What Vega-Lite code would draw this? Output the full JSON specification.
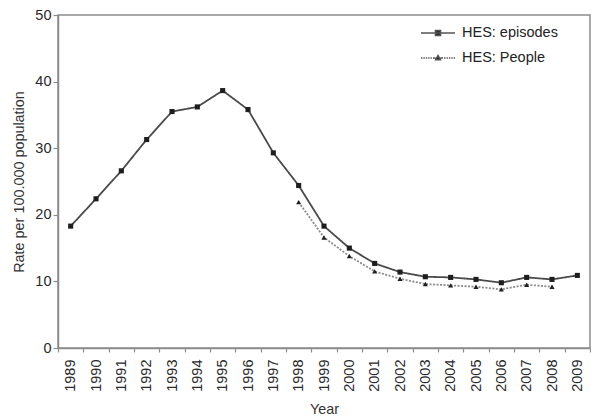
{
  "$schema": "https://vega.github.io/schema/vega-lite/v6.json",
  "width": 532,
  "height": 333,
  "autosize": {"type": "none"},
  "padding": {"left": 58, "top": 15, "right": 1, "bottom": 70},
  "background": "white",
  "config": {
    "font": "Liberation Sans",
    "view": {"stroke": "#8c8c8c", "strokeWidth": 1.5},
    "axis": {
      "domainColor": "#8c8c8c", "domainWidth": 1.5,
      "tickColor": "#8c8c8c", "tickWidth": 1.2,
      "labelColor": "#2a2a2a", "labelFontSize": 14.5, "labelFont": "Liberation Sans",
      "titleColor": "#333", "titleFontSize": 14.4, "titleFontWeight": "normal", "titleFont": "Liberation Sans",
      "grid": false
    }
  },
  "data": {"values": [
    {"year": 1989, "series": "HES: episodes", "rate": 18.3},
    {"year": 1990, "series": "HES: episodes", "rate": 22.4},
    {"year": 1991, "series": "HES: episodes", "rate": 26.6},
    {"year": 1992, "series": "HES: episodes", "rate": 31.3},
    {"year": 1993, "series": "HES: episodes", "rate": 35.5},
    {"year": 1994, "series": "HES: episodes", "rate": 36.2},
    {"year": 1995, "series": "HES: episodes", "rate": 38.65},
    {"year": 1996, "series": "HES: episodes", "rate": 35.8},
    {"year": 1997, "series": "HES: episodes", "rate": 29.3},
    {"year": 1998, "series": "HES: episodes", "rate": 24.4},
    {"year": 1999, "series": "HES: episodes", "rate": 18.3},
    {"year": 2000, "series": "HES: episodes", "rate": 15.0},
    {"year": 2001, "series": "HES: episodes", "rate": 12.7},
    {"year": 2002, "series": "HES: episodes", "rate": 11.4},
    {"year": 2003, "series": "HES: episodes", "rate": 10.7},
    {"year": 2004, "series": "HES: episodes", "rate": 10.6},
    {"year": 2005, "series": "HES: episodes", "rate": 10.3},
    {"year": 2006, "series": "HES: episodes", "rate": 9.8},
    {"year": 2007, "series": "HES: episodes", "rate": 10.6},
    {"year": 2008, "series": "HES: episodes", "rate": 10.3},
    {"year": 2009, "series": "HES: episodes", "rate": 10.9},
    {"year": 1998, "series": "HES: People", "rate": 21.9},
    {"year": 1999, "series": "HES: People", "rate": 16.6},
    {"year": 2000, "series": "HES: People", "rate": 13.8},
    {"year": 2001, "series": "HES: People", "rate": 11.5},
    {"year": 2002, "series": "HES: People", "rate": 10.4},
    {"year": 2003, "series": "HES: People", "rate": 9.6},
    {"year": 2004, "series": "HES: People", "rate": 9.4},
    {"year": 2005, "series": "HES: People", "rate": 9.2},
    {"year": 2006, "series": "HES: People", "rate": 8.8},
    {"year": 2007, "series": "HES: People", "rate": 9.5},
    {"year": 2008, "series": "HES: People", "rate": 9.2}
  ]},
  "encoding": {
    "x": {
      "field": "year", "type": "ordinal",
      "scale": {"type": "band", "paddingInner": 0, "paddingOuter": 0},
      "axis": {"title": "Year", "labelAngle": -90, "labelAlign": "right", "labelBaseline": "middle",
               "tickBand": "extent", "tickSize": 4, "labelPadding": 7, "titlePadding": 11}
    },
    "y": {
      "field": "rate", "type": "quantitative",
      "scale": {"domain": [0, 50], "nice": false},
      "axis": {"title": "Rate per 100.000 population", "values": [0, 10, 20, 30, 40, 50],
               "tickSize": 5, "labelPadding": 2, "titlePadding": 8}
    }
  },
  "layer": [
    {
      "mark": {"type": "line", "strokeWidth": 1.8},
      "encoding": {
        "color": {"field": "series", "type": "nominal", "legend": null,
                  "scale": {"domain": ["HES: episodes", "HES: People"], "range": ["#4a4a4a", "#8a8a8a"]}},
        "strokeDash": {"field": "series", "type": "nominal", "legend": null,
                       "scale": {"domain": ["HES: episodes", "HES: People"], "range": [[1, 0], [2, 1.5]]}}
      }
    },
    {
      "mark": {"type": "point", "filled": true, "opacity": 1, "size": 26, "color": "#1e1e1e"},
      "encoding": {
        "shape": {"field": "series", "type": "nominal", "legend": null,
                  "scale": {"domain": ["HES: episodes", "HES: People"], "range": ["square", "triangle-up"]}}
      }
    },
    {
      "data": {"values": []},
      "mark": {"type": "point", "filled": true, "opacity": 1, "size": 1156, "color": "#222", "stroke": "#555", "strokeWidth": 1.5},
      "encoding": {
        "x": {"value": 0},
        "y": {"value": 0},
        "shape": {
          "field": "series", "type": "nominal",
          "scale": {"domain": ["HES: episodes", "HES: People"],
                    "range": ["M-1,0H1M-0.15,-0.15H0.15V0.15H-0.15Z",
                              "M-1,0H-0.92M-0.86,0H-0.78M-0.72,0H-0.64M-0.58,0H-0.5M-0.44,0H-0.36M-0.3,0H-0.22M0.22,0H0.3M0.36,0H0.44M0.5,0H0.58M0.64,0H0.72M0.78,0H0.86M0.92,0H1M-0.22,0H-0.14M0.14,0H0.22M0,-0.15L0.14,0.1L-0.14,0.1Z"]},
          "legend": {"orient": "none", "legendX": 362, "legendY": 0, "title": null,
                     "symbolSize": 1156, "labelFontSize": 14.5, "labelColor": "#222", "labelFont": "Liberation Sans",
                     "labelOffset": 6, "rowPadding": -14, "padding": 0}
        }
      }
    }
  ],
  "resolve": {"scale": {"shape": "independent"}}
}
